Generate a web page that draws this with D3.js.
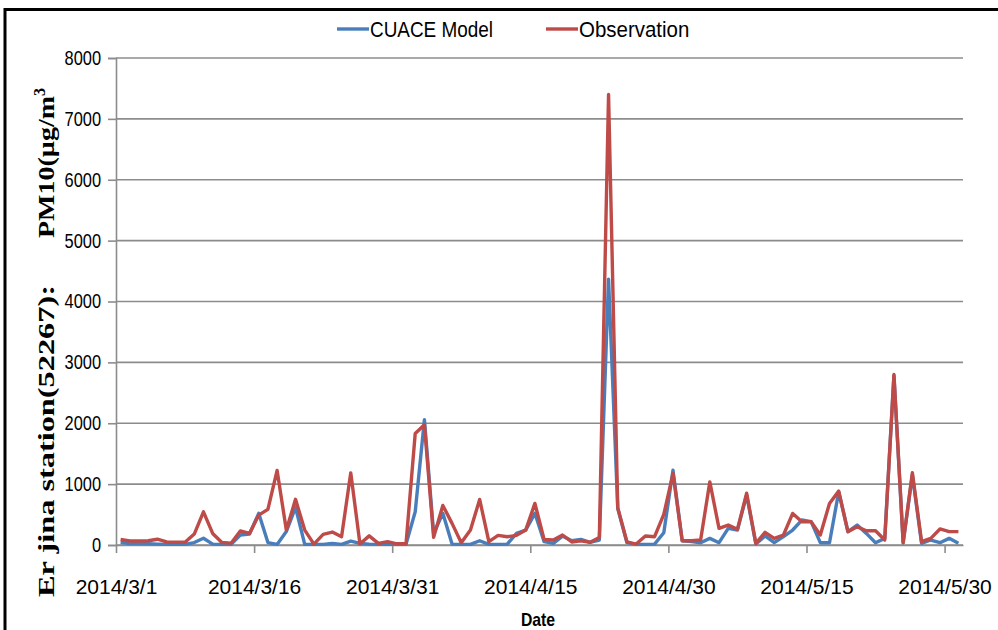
<!DOCTYPE html>
<html>
<head>
<meta charset="utf-8">
<script src="https://cdn.jsdelivr.net/npm/d3@7"></script>
<style>
  body { margin: 0; background: #fff; }
  svg { display: block; }
</style>
</head>
<body>
<svg id="chart" width="998" height="630"></svg>
<script>
// daily series, 2014/3/1 .. 2014/5/31
const startDate = "2014-03-01";
const endDate = "2014-06-01";

const model = [
  40, 25, 25, 20, 15, 10, 10, 10, 40, 110, 15, 10, 10, 165, 180, 520,
  40, 10, 220, 617, 10, 10, 10, 27, 10, 65, 27, 15, 10, 10, 10, 10,
  546, 2060, 190, 520, 15, 10, 10, 70, 10, 10, 15, 190, 245, 520, 55, 27,
  147, 70, 93, 44, 82, 4368, 600, 38, 10, 10, 15, 202, 1228, 70, 55, 38,
  109, 38, 273, 246, 820, 16, 148, 38, 137, 246, 410, 383, 38, 38, 874, 219,
  328, 191, 38, 109, 2780, 38, 1150, 27, 82, 38, 109, 27
];

const observation = [
  90, 65, 65, 70, 95, 50, 45, 45, 180, 545, 190, 40, 30, 230, 190, 490,
  585, 1225, 245, 750, 245, 15, 175, 213, 136, 1185, 15, 150, 27, 55, 20, 20,
  1830, 1975, 125, 650, 355, 38, 245, 748, 55, 158, 136, 158, 245, 683, 93, 82,
  164, 50, 70, 44, 125, 7400, 610, 50, 15, 147, 136, 502, 1174, 70, 70, 82,
  1037, 273, 328, 257, 850, 27, 208, 109, 164, 519, 383, 383, 164, 683, 885, 219,
  300, 235, 235, 82, 2800, 38, 1186, 55, 109, 263, 219, 219
];

const tickDates = ["2014-03-01", "2014-03-16", "2014-03-31", "2014-04-15", "2014-04-30", "2014-05-15", "2014-05-30"];
const yTicks = [0, 1000, 2000, 3000, 4000, 5000, 6000, 7000, 8000];

const seriesNames = ["CUACE Model", "Observation"];
const colors = ["#4a7ebb", "#be4b48"];

const parse = d3.timeParse("%Y-%m-%d");
const fmt = d3.timeFormat("%Y/%-m/%-d");
const days = d3.timeDay.range(parse(startDate), parse(endDate));

const margin = { top: 58, right: 35, bottom: 85, left: 116 };
const width = 998;
const height = 630;
const sans = "'Liberation Sans', Arial, sans-serif";

const svg = d3.select("#chart");

// squeeze text horizontally so it looks like the narrow font of the original
const condense = (sel, f) =>
  sel.each(function () {
    const w = this.getComputedTextLength();
    d3.select(this).attr("textLength", w * f).attr("lengthAdjust", "spacingAndGlyphs");
  });

const x = d3.scaleTime()
  .domain([parse(startDate), parse(endDate)])
  .range([margin.left, width - margin.right]);

const y = d3.scaleLinear()
  .domain([0, 8000])
  .range([height - margin.bottom, margin.top]);

// point sits in the middle of its day
const px = (d) => x(d3.timeHour.offset(d, 12));

// outer frame (top and left edges visible)
svg.append("path")
  .attr("d", `M5,630 V9.5 H998`)
  .attr("fill", "none")
  .attr("stroke", "#000")
  .attr("stroke-width", 3);

// grid
svg.append("g")
  .selectAll("line")
  .data(yTicks)
  .join("line")
  .attr("x1", margin.left)
  .attr("x2", width - margin.right)
  .attr("y1", (d) => y(d))
  .attr("y2", (d) => y(d))
  .attr("stroke", "#8c8c8c")
  .attr("stroke-width", 1.6);

// y axis
const yAxis = (g) =>
  g.attr("transform", `translate(${margin.left},0)`)
    .call(d3.axisLeft(y).tickValues(yTicks).tickSize(8).tickPadding(7).tickFormat(d3.format("d")))
    .call((g) => g.select(".domain").attr("stroke", "#8c8c8c").attr("stroke-width", 1.6))
    .call((g) => g.selectAll(".tick line").attr("stroke", "#8c8c8c").attr("stroke-width", 1.6))
    .call((g) => g.selectAll(".tick text")
      .attr("fill", "#000")
      .style("font-family", sans)
      .style("font-size", "20px")
      .call(condense, 0.82));

// x axis
const xAxis = (g) =>
  g.attr("transform", `translate(0,${height - margin.bottom})`)
    .call(d3.axisBottom(x).tickValues(tickDates.map(parse)).tickFormat(fmt).tickSize(8).tickPadding(26).tickSizeOuter(0))
    .call((g) => g.select(".domain").attr("stroke", "#8c8c8c").attr("stroke-width", 1.6))
    .call((g) => g.selectAll(".tick line").attr("stroke", "#8c8c8c").attr("stroke-width", 1.6))
    .call((g) => g.selectAll(".tick text")
      .attr("fill", "#000")
      .style("font-family", sans)
      .style("font-size", "21px"));

svg.append("g").call(yAxis);
svg.append("g").call(xAxis);

// lines
const line = d3.line()
  .x((d, i) => px(days[i]))
  .y((d) => y(d));

[model, observation].forEach((values, k) => {
  svg.append("path")
    .datum(values)
    .attr("fill", "none")
    .attr("stroke", colors[k])
    .attr("stroke-width", 3.4)
    .attr("stroke-linejoin", "round")
    .attr("d", line);
});

// legend
const legend = svg.append("g").attr("transform", "translate(337,29)");
const legendX = [0, 209];
const legendSqueeze = [0.86, 0.93];
seriesNames.forEach((name, k) => {
  const item = legend.append("g").attr("transform", `translate(${legendX[k]},0)`);
  item.append("line")
    .attr("x1", 0).attr("x2", 32)
    .attr("stroke", colors[k])
    .attr("stroke-width", 3.4);
  item.append("text")
    .attr("x", 33)
    .attr("dy", "0.35em")
    .style("font-family", sans)
    .style("font-size", "22px")
    .text(name)
    .call(condense, legendSqueeze[k]);
});

// axis titles
svg.append("text")
  .attr("x", 538)
  .attr("y", 626)
  .attr("text-anchor", "middle")
  .style("font-family", sans)
  .style("font-weight", "bold")
  .style("font-size", "19px")
  .text("Date")
  .call(condense, 0.83);

const serif = "'Liberation Serif', 'Times New Roman', serif";
svg.append("text")
  .attr("transform", "translate(54,597) rotate(-90)")
  .attr("textLength", 312)
  .attr("lengthAdjust", "spacingAndGlyphs")
  .style("font-family", serif)
  .style("font-weight", "bold")
  .style("font-size", "24px")
  .text("Er jina station(52267):");

const yTitle = svg.append("text")
  .attr("transform", "translate(54,238) rotate(-90)")
  .style("font-family", serif)
  .style("font-weight", "bold")
  .style("font-size", "24px");
yTitle.append("tspan").attr("textLength", 142).attr("lengthAdjust", "spacingAndGlyphs").text("PM10(\u00b5g/m");
yTitle.append("tspan").attr("dy", -9).style("font-size", "16px").text("3");
</script>
</body>
</html>
